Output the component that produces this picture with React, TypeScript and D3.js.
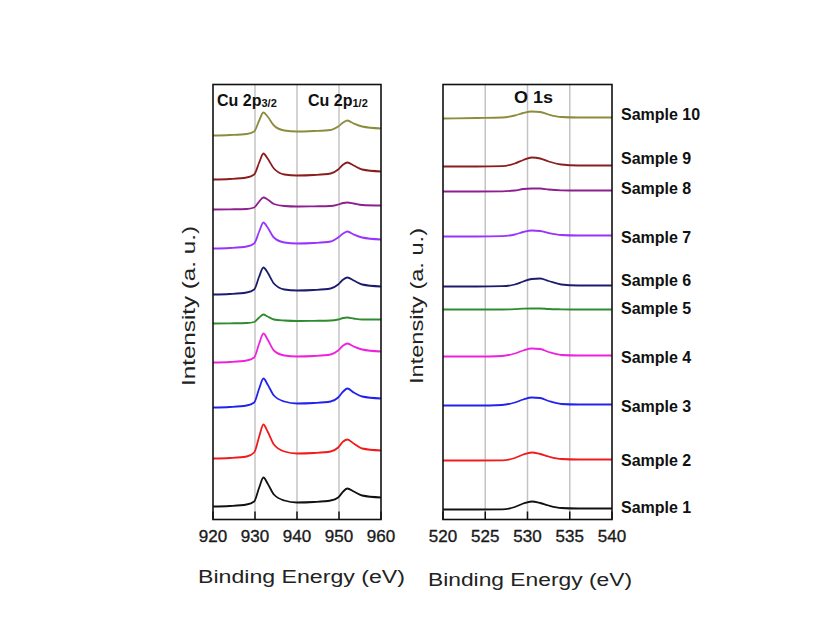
import React from "react";
import * as d3 from "d3";

// ---------- data ----------
const CU_ENERGY = [920, 924, 928, 929.8, 931, 932, 933, 934.5, 937, 940, 944, 948, 949.8, 951, 952, 953.5, 955.5, 960];
const O_ENERGY = [520, 524, 527, 528.5, 529.5, 530.5, 531.5, 532.5, 534, 536, 540];

const CU_TICKS = [920, 930, 940, 950, 960];
const CU_GRID = [930, 940, 950];
const O_TICKS = [520, 525, 530, 535, 540];
const O_GRID = [525, 530, 535];

const SAMPLE_NAMES = ["Sample 1", "Sample 2", "Sample 3", "Sample 4", "Sample 5", "Sample 6", "Sample 7", "Sample 8", "Sample 9", "Sample 10"];
const SAMPLE_COLORS = ["#111111", "#f01c1c", "#2222ee", "#ee22dd", "#2e8b2e", "#1c1c6e", "#9933ff", "#8e1f8e", "#8a1e1e", "#8c8c3c"];

// Cu 2p spectra (a.u., offset-stacked)
const cuSample1 = [13, 13.5, 15, 18, 32, 42, 36, 25, 19, 17, 17.5, 19, 22, 28, 31, 28, 24, 22];
const cuSample2 = [61, 61.5, 63, 67, 83, 95, 88, 75, 68, 66, 66.5, 68, 72, 78, 80, 76, 71, 69];
const cuSample3 = [112, 112.5, 114, 117, 131, 141, 135, 124, 118, 116, 116.5, 118, 122, 128, 131, 127, 123, 121];
const cuSample4 = [157, 157.5, 159, 162, 176, 186, 180, 169, 164, 163, 163.5, 165, 169, 174, 176, 173, 170, 168];
const cuSample5 = [196, 196.2, 196.5, 197.5, 202, 205, 203, 200, 199, 198.5, 198.7, 199, 200, 201.5, 202, 201, 200, 200];
const cuSample6 = [225, 225.5, 227, 230, 243, 252, 247, 236, 230, 229, 229.5, 231, 235, 240, 242, 239, 235, 233];
const cuSample7 = [271, 271.5, 273, 276, 288, 297, 292, 282, 277, 276, 276.5, 278, 282, 286, 288, 285, 282, 280];
const cuSample8 = [310, 310.2, 310.5, 312, 318, 322, 320, 315.5, 313.5, 313, 313.2, 313.5, 315, 316.5, 317, 316, 314.5, 314];
const cuSample9 = [340, 340.5, 342, 345, 357, 366, 361, 351, 345, 344, 344.5, 346, 350, 355, 357, 354, 350, 348];
const cuSample10 = [384, 384.5, 385.5, 388, 399, 407, 403, 394, 389, 388, 388.5, 389.5, 393, 397, 399, 396, 393, 391];

// O 1s spectra (a.u., offset-stacked)
const oSample1 = [10, 10, 10.2, 12.5, 16, 18, 16.5, 14, 11.5, 11, 11];
const oSample2 = [59, 59, 59.2, 61.5, 65, 67, 65.5, 63, 60.5, 60, 60];
const oSample3 = [114, 114, 114.5, 117, 120, 122, 121.5, 118.5, 115.5, 115, 115];
const oSample4 = [163, 163, 163.5, 166, 169, 171, 170.5, 167.5, 164.5, 164, 164];
const oSample5 = [210, 210, 210, 210.3, 210.8, 211, 211, 210.5, 210.2, 210, 210];
const oSample6 = [233, 233, 233.3, 235, 238, 240.5, 241, 238.5, 235, 234, 234];
const oSample7 = [283, 283, 283.3, 285, 287.5, 289, 288.5, 286.5, 284.5, 284, 284];
const oSample8 = [328, 328, 328.2, 329, 330.5, 331, 331, 330, 329.2, 329, 329];
const oSample9 = [353, 353, 353.3, 356, 359.5, 362, 361, 358, 355, 354, 354];
const oSample10 = [401, 401.5, 402, 404, 406.5, 408, 407.5, 405, 402.5, 402, 402];

// label levels on the intensity axis
const LABEL_LEVELS = [12, 59, 113, 162, 211, 239, 282, 331, 361, 405];

const CU_SERIES = [cuSample1, cuSample2, cuSample3, cuSample4, cuSample5, cuSample6, cuSample7, cuSample8, cuSample9, cuSample10];
const O_SERIES = [oSample1, oSample2, oSample3, oSample4, oSample5, oSample6, oSample7, oSample8, oSample9, oSample10];

// ---------- layout ----------
const W = 823;
const H = 618;
const TOP = 84.5;
const BOTTOM = 519.5;
const FONT = "'Liberation Sans', Arial, sans-serif";

const xCu = d3.scaleLinear().domain([920, 960]).range([213, 381]);
const xO = d3.scaleLinear().domain([520, 540]).range([443, 612]);
const y = d3.scaleLinear().domain([0, 435]).range([BOTTOM, TOP]);

function Panel({ x, energy, series, ticks, grid }: any) {
  const line = d3
    .line<[number, number]>()
    .x((d) => x(d[0]))
    .y((d) => y(d[1]))
    .curve(d3.curveMonotoneX);
  const [x0, x1] = x.range();
  return (
    <g>
      {grid.map((g: number) => (
        <line key={"g" + g} x1={x(g)} x2={x(g)} y1={TOP} y2={BOTTOM} stroke="#c4c4c4" strokeWidth={1.5} />
      ))}
      {series.map((s: number[], i: number) => (
        <path
          key={i}
          d={line(energy.map((e: number, j: number) => [e, s[j]]) as [number, number][]) || ""}
          fill="none"
          stroke={SAMPLE_COLORS[i]}
          strokeWidth={1.8}
        />
      ))}
      <rect x={x0} y={TOP} width={x1 - x0} height={BOTTOM - TOP} fill="none" stroke="#111" strokeWidth={1.6} />
      {ticks.map((t: number) => (
        <g key={"t" + t}>
          <line x1={x(t)} x2={x(t)} y1={BOTTOM} y2={BOTTOM - 8} stroke="#111" strokeWidth={1.5} />
          <text x={x(t)} y={542} textAnchor="middle" fontFamily={FONT} fontSize={17} fill="#1a1a1a" stroke="#1a1a1a" strokeWidth={0.35}>
            {t}
          </text>
        </g>
      ))}
    </g>
  );
}

export default function App() {
  return (
    <svg width={W} height={H} style={{ position: "absolute", left: 0, top: 0, background: "#fff" }}>
      <rect x={0} y={0} width={W} height={H} fill="#fff" />
      <Panel x={xCu} energy={CU_ENERGY} series={CU_SERIES} ticks={CU_TICKS} grid={CU_GRID} />
      <Panel x={xO} energy={O_ENERGY} series={O_SERIES} ticks={O_TICKS} grid={O_GRID} />

      {/* panel headers */}
      <text x={217} y={106} fontFamily={FONT} fontSize={16} fontWeight="bold" fill="#111">
        Cu 2p
        <tspan fontSize={11} dy={1}>3/2</tspan>
      </text>
      <text x={308} y={106} fontFamily={FONT} fontSize={16} fontWeight="bold" fill="#111">
        Cu 2p
        <tspan fontSize={11} dy={1}>1/2</tspan>
      </text>
      <text x={514} y={103} fontFamily={FONT} fontSize={16} fontWeight="bold" fill="#111" textLength={39} lengthAdjust="spacingAndGlyphs">
        O 1s
      </text>

      {/* sample labels */}
      {SAMPLE_NAMES.map((n, i) => (
        <text key={n} x={621} y={y(LABEL_LEVELS[i])} dy="0.36em" fontFamily={FONT} fontSize={16} fontWeight="bold" fill="#111">
          {n}
        </text>
      ))}

      {/* axis titles */}
      <text x={198} y={583} fontFamily={FONT} fontSize={18} fill="#222" textLength={207} lengthAdjust="spacingAndGlyphs">
        Binding Energy (eV)
      </text>
      <text x={428} y={586} fontFamily={FONT} fontSize={18} fill="#222" textLength={204} lengthAdjust="spacingAndGlyphs">
        Binding Energy (eV)
      </text>
      <text transform="translate(195,306) rotate(-90)" textAnchor="middle" fontFamily={FONT} fontSize={18} fill="#222" textLength={160} lengthAdjust="spacingAndGlyphs">
        Intensity (a. u.)
      </text>
      <text transform="translate(423,306) rotate(-90)" textAnchor="middle" fontFamily={FONT} fontSize={18} fill="#222" textLength={156} lengthAdjust="spacingAndGlyphs">
        Intensity (a. u.)
      </text>
    </svg>
  );
}
